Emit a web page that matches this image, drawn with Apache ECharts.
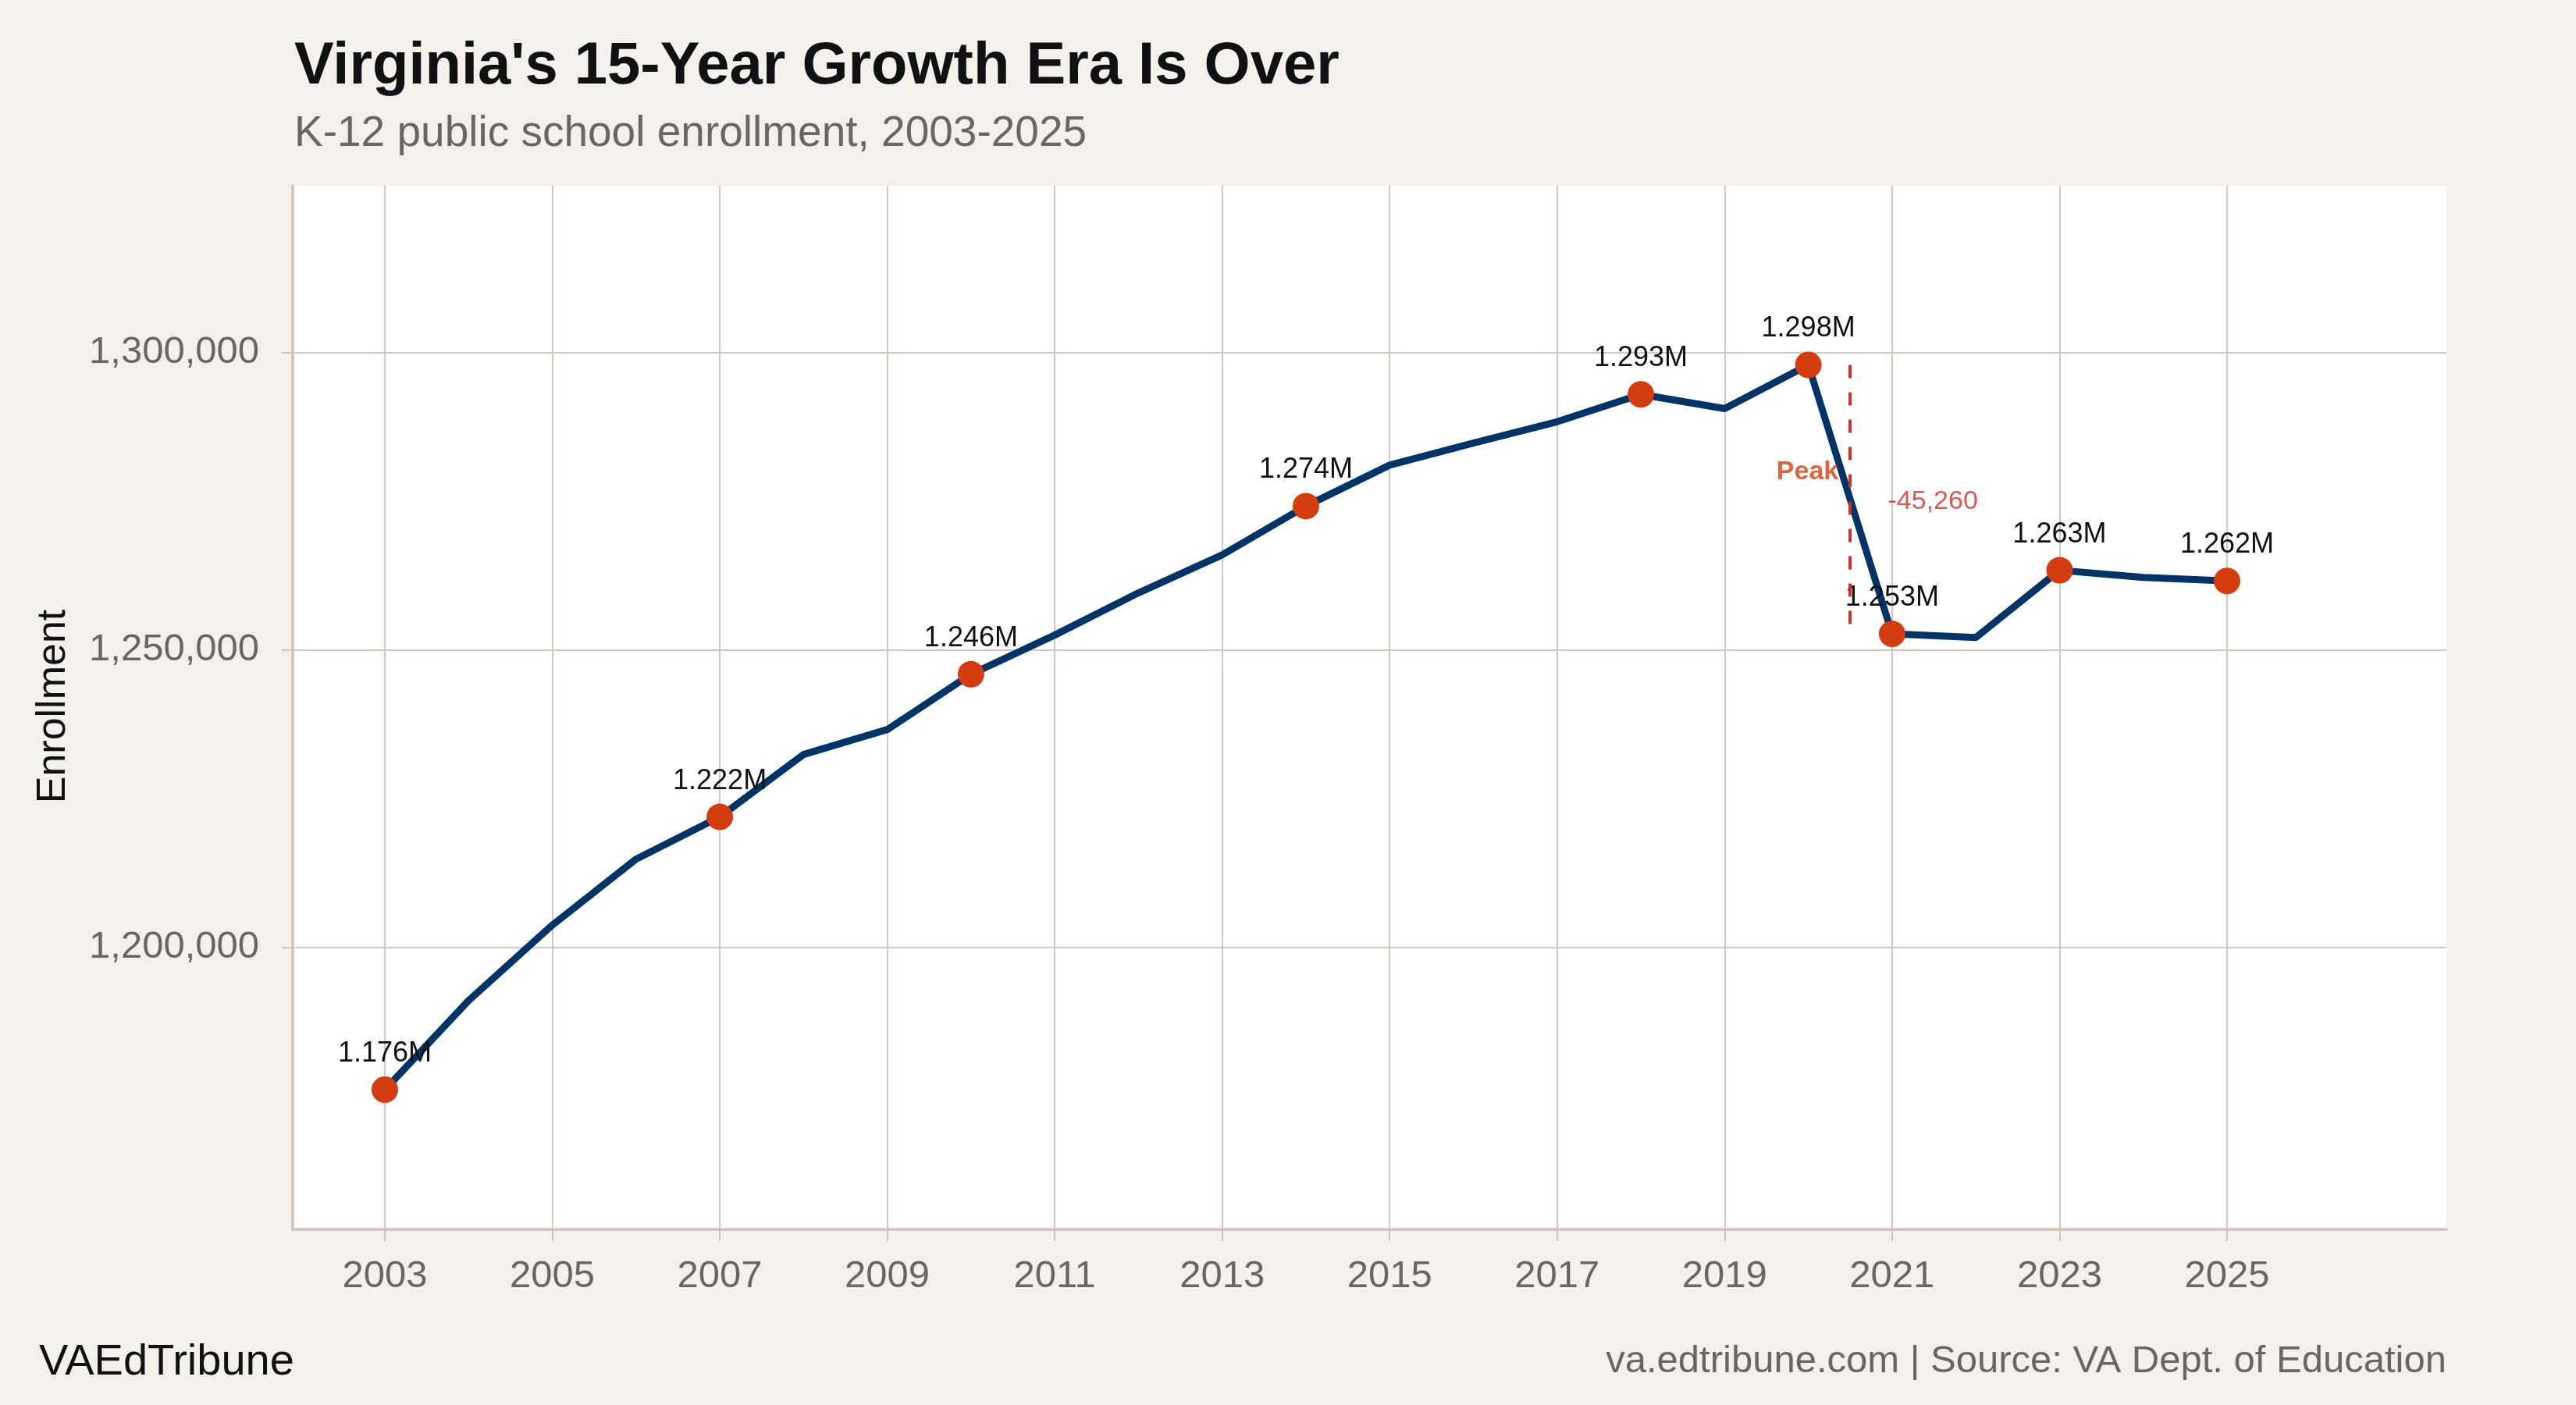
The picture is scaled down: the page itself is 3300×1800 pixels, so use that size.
<!DOCTYPE html>
<html>
<head>
<meta charset="utf-8">
<script src="https://cdn.jsdelivr.net/npm/echarts@6/dist/echarts.min.js"></script>
<style>
html,body{margin:0;padding:0;background:#F4F1EC;}
#c{width:3300px;height:1800px;}
</style>
</head>
<body>
<div id="c"></div>
<script>
// ---- data ----
const years = [2003,2004,2005,2006,2007,2008,2009,2010,2011,2012,2013,2014,2015,2016,2017,2018,2019,2020,2021,2022,2023,2024,2025];
const enrollment = [1176000,1191000,1203700,1214800,1221900,1232400,1236600,1245900,1252500,1259600,1266000,1274200,1281100,1284800,1288400,1293000,1290600,1297960,1252700,1252100,1263400,1262200,1261600];
const labeledYears = [2003,2007,2010,2014,2018,2020,2021,2023,2025];
const xTickYears = [2003,2005,2007,2009,2011,2013,2015,2017,2019,2021,2023,2025];
const yTickValues = [1200000,1250000,1300000];
const titleText = "Virginia's 15-Year Growth Era Is Over";
const subtitleText = "K-12 public school enrollment, 2003-2025";
const yAxisTitle = "Enrollment";
const footerLeft = "VAEdTribune";
const footerRight = "va.edtribune.com | Source: VA Dept. of Education";
const peakMarker = { year: 2020.5, top: 1297960, bottom: 1253700 };
const peakLabel = { text: 'Peak', year: 2020.36, value: 1280000 };
const dropLabel = { text: '-45,260', year: 2020.95, value: 1275000 };

// ---- styles ----
const FONT = "'Liberation Sans', Arial, Helvetica, sans-serif";
const NAVY = '#003366';
const ORANGE = '#D33D10';
const RED = '#D0302C';
const GRID = '#D0C9C0';
const AXIS = '#CCC4BA';
const GRAY = '#6A6661';

const lineData = years.map((y, i) => [y, enrollment[i]]);
const pointData = lineData.filter(d => labeledYears.includes(d[0]));

const chart = echarts.init(document.getElementById('c'), null, {renderer: 'canvas'});
chart.setOption({
  animation: false,
  backgroundColor: '#F4F1EC',
  textStyle: { fontFamily: FONT },
  grid: { left: 375, right: 166, top: 238, bottom: 225, show: true, backgroundColor: '#FFFFFF', borderWidth: 0 },
  xAxis: {
    type: 'value', min: 2001.9, max: 2027.62,
    axisLine: { show: true, onZero: false, lineStyle: { color: AXIS, width: 3.5 } },
    axisTick: { show: true, customValues: xTickYears, length: 15, lineStyle: { color: AXIS, width: 2 } },
    axisLabel: { customValues: xTickYears, margin: 36, fontSize: 49, color: GRAY, fontFamily: FONT, formatter: v => String(v) },
    splitLine: { show: true, lineStyle: { color: GRID, width: 2.2 } }
  },
  yAxis: {
    type: 'value', min: 1152500, max: 1328100,
    axisLine: { show: true, onZero: false, lineStyle: { color: AXIS, width: 3.5 } },
    axisTick: { show: true, customValues: yTickValues, length: 14, lineStyle: { color: AXIS, width: 2 } },
    axisLabel: { customValues: yTickValues, margin: 43, fontSize: 49, color: GRAY, fontFamily: FONT, formatter: v => Number(v).toLocaleString('en-US') },
    splitLine: { show: true, lineStyle: { color: GRID, width: 2.2 } }
  },
  series: [
    {
      type: 'line', data: lineData, showSymbol: false, z: 2,
      lineStyle: { color: NAVY, width: 9 },
      markLine: {
        silent: true, symbol: 'none', animation: false,
        label: { show: false },
        lineStyle: { color: RED, width: 4, type: [17, 18] },
        data: [[ { coord: [peakMarker.year, peakMarker.top] }, { coord: [peakMarker.year, peakMarker.bottom] } ]]
      }
    },
    {
      type: 'scatter', data: pointData, z: 4, symbol: 'circle', symbolSize: 34,
      itemStyle: { color: ORANGE, opacity: 1 },
      label: {
        show: true, position: 'top', distance: 11, fontSize: 36, color: '#111', fontFamily: FONT,
        formatter: p => (p.value[1] / 1e6).toFixed(3) + 'M'
      }
    },
    {
      type: 'scatter', z: 5, symbolSize: 0, silent: true,
      data: [
        { value: [peakLabel.year, peakLabel.value], label: { show: true, position: 'left', distance: 0, formatter: peakLabel.text, fontSize: 34, fontWeight: 'bold', color: ORANGE, fontFamily: FONT } },
        { value: [dropLabel.year, dropLabel.value], label: { show: true, position: 'right', distance: 0, formatter: dropLabel.text, fontSize: 34, color: RED, fontFamily: FONT } }
      ]
    }
  ],
  graphic: [
    { type: 'text', x: 377, y: 86, style: { text: titleText, fontSize: 76, fontWeight: 'bold', fontFamily: FONT, fill: '#111', align: 'left', verticalAlign: 'middle' } },
    { type: 'text', x: 377, y: 172, style: { text: subtitleText, fontSize: 55, fontFamily: FONT, fill: GRAY, align: 'left', verticalAlign: 'middle' } },
    { type: 'text', x: 69, y: 905, rotation: Math.PI / 2, style: { text: yAxisTitle, fontSize: 52, fontFamily: FONT, fill: '#111', align: 'center', verticalAlign: 'middle' } },
    { type: 'text', x: 50, y: 1746, style: { text: footerLeft, fontSize: 56, fontFamily: FONT, fill: '#111', align: 'left', verticalAlign: 'middle' } },
    { type: 'text', x: 3134, y: 1744, style: { text: footerRight, fontSize: 49, fontFamily: FONT, fill: GRAY, align: 'right', verticalAlign: 'middle' } }
  ]
});
</script>
</body>
</html>
